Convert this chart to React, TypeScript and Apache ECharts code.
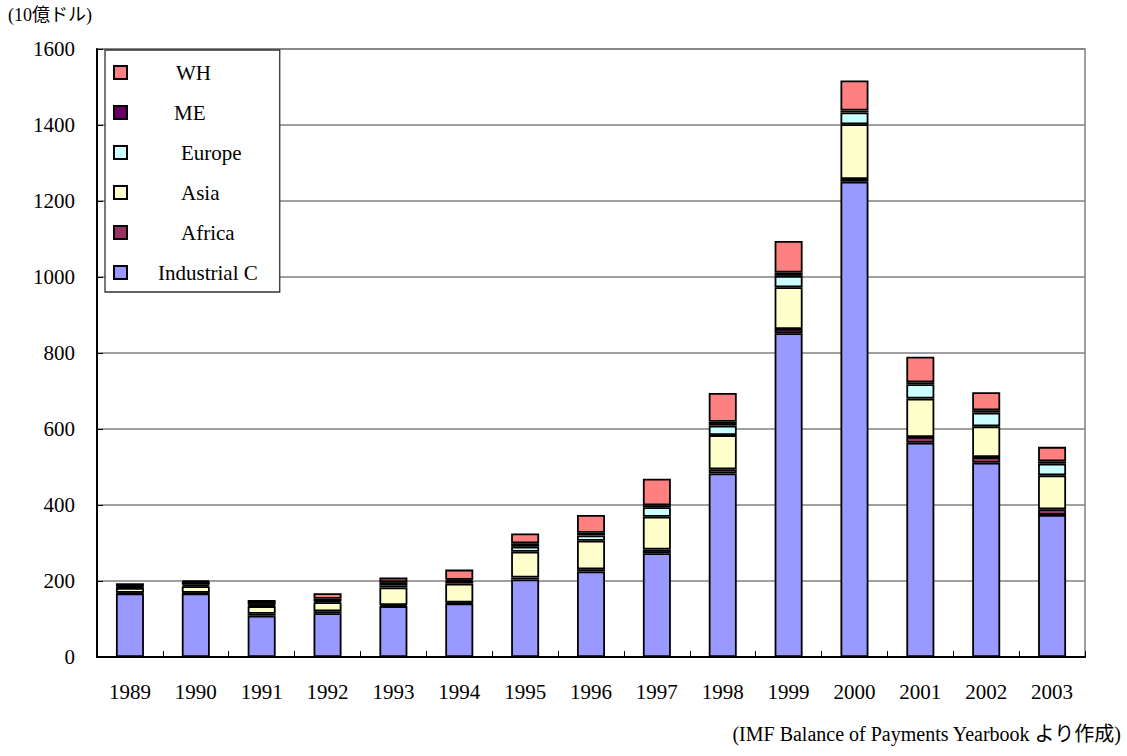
import React, { useEffect, useRef } from "react";
import * as echarts from "echarts";

// Capital inflows by region, 1989-2003 (billions of US dollars)
const years = ["1989", "1990", "1991", "1992", "1993", "1994", "1995", "1996", "1997", "1998", "1999", "2000", "2001", "2002", "2003"];
const industrial = [167, 167, 109, 115, 134, 141, 204, 225, 273, 483, 852, 1251, 564, 511, 374];
const africa = [2, 2, 5, 5, 3, 2, 5, 6, 10, 11, 11, 7, 15, 15, 15];
const asia = [13, 17, 20, 24, 46, 50, 68, 75, 86, 90, 110, 144, 101, 81, 89];
const europe = [2, 4, 3, 3, 5, 7, 13, 14, 25, 25, 30, 31, 38, 36, 31];
const me = [2, 8, 5, 6, 9, 3, 9, 7, 5, 10, 9, 5, 5, 6, 6];
const wh = [8, 3, 8, 15, 12, 27, 26, 47, 70, 76, 83, 79, 67, 48, 38];
const yTicks = { min: 0, max: 1600, interval: 200 };

const SERIF = "'Liberation Serif', 'Times New Roman', 'Noto Sans CJK JP', serif";

const seriesDefs = [
  { name: "Industrial C", data: industrial, color: "#9999FF", pad: 31 },
  { name: "Africa", data: africa, color: "#993366", pad: 54 },
  { name: "Asia", data: asia, color: "#FFFFCC", pad: 54 },
  { name: "Europe", data: europe, color: "#CCFFFF", pad: 54 },
  { name: "ME", data: me, color: "#660066", pad: 47 },
  { name: "WH", data: wh, color: "#FF8080", pad: 49 },
];

export default function App() {
  const ref = useRef<HTMLDivElement>(null);

  useEffect(() => {
    if (!ref.current) return;
    const chart = echarts.init(ref.current, null, { renderer: "svg" });

    const rich: Record<string, any> = {};
    seriesDefs.forEach((s, i) => {
      rich["s" + i] = {
        fontFamily: SERIF,
        fontSize: 21,
        color: "#000",
        padding: [0, 0, 0, s.pad - 5],
      };
    });

    chart.setOption({
      animation: false,
      backgroundColor: "#fff",
      textStyle: { fontFamily: SERIF },
      grid: {
        left: 97,
        right: 42,
        top: 49,
        bottom: 99,
        show: true,
        borderColor: "#808080",
        borderWidth: 1.5,
        backgroundColor: "transparent",
      },
      legend: {
        orient: "vertical",
        left: 105,
        top: 50,
        data: ["WH", "ME", "Europe", "Asia", "Africa", "Industrial C"],
        itemWidth: 13,
        itemHeight: 13,
        itemGap: 19,
        padding: [12, 22, 9, 8],
        backgroundColor: "#fff",
        borderColor: "#333",
        borderWidth: 1.3,
        borderRadius: 0,
        icon: "rect",
        itemStyle: { borderColor: "#000", borderWidth: 2 },
        textStyle: { fontFamily: SERIF, fontSize: 21, color: "#000", lineHeight: 21, rich },
        formatter: (name: string) => {
          const i = seriesDefs.findIndex((s) => s.name === name);
          return `{s${i}|${name}}`;
        },
      },
      xAxis: {
        type: "category",
        data: years,
        boundaryGap: true,
        axisLine: { lineStyle: { color: "#000", width: 2 } },
        axisTick: { show: true, inside: true, length: 6, alignWithLabel: false, lineStyle: { color: "#000", width: 1 } },
        axisLabel: { fontFamily: SERIF, fontSize: 21, color: "#000", margin: 24 },
      },
      yAxis: {
        type: "value",
        min: yTicks.min,
        max: yTicks.max,
        interval: yTicks.interval,
        axisLine: { show: true, lineStyle: { color: "#000", width: 2 } },
        axisTick: { show: true, inside: true, length: 6, lineStyle: { color: "#000" } },
        splitLine: { lineStyle: { color: "#808080", width: 1.5 } },
        axisLabel: {
          fontFamily: SERIF,
          fontSize: 21,
          color: "#000",
          margin: 22,
          formatter: (v: number) => String(v),
        },
      },
      graphic: [
        {
          type: "text",
          left: 8,
          top: 6,
          style: {
            text: "(10億ドル)",
            fontFamily: SERIF,
            fontSize: 18,
            fill: "#000",
          },
        },
        {
          type: "text",
          right: 5,
          top: 724,
          style: {
            text: "(IMF Balance of Payments Yearbook より作成)",
            fontFamily: SERIF,
            fontSize: 20,
            fill: "#000",
          },
        },
      ],
      series: seriesDefs.map((s) => ({
        name: s.name,
        type: "bar",
        stack: "total",
        barWidth: 28,
        data: s.data,
        itemStyle: { color: s.color, borderColor: "#000", borderWidth: 1.8 },
        emphasis: { disabled: true },
      })),
    });

    return () => chart.dispose();
  }, []);

  return (
    <div
      ref={ref}
      style={{ position: "fixed", left: 0, top: 0, width: 1127, height: 756 }}
    />
  );
}
